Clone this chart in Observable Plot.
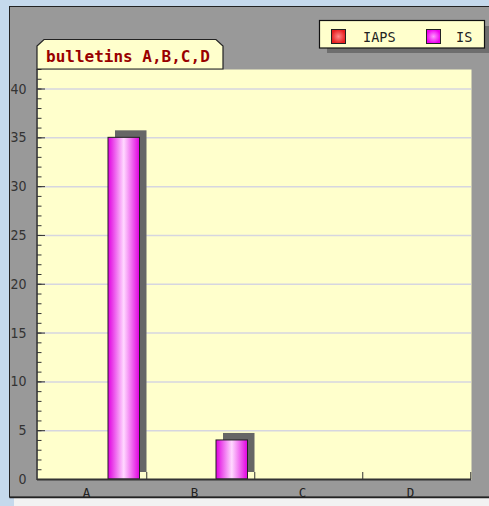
<!DOCTYPE html>
<html><head><meta charset="utf-8">
<script src="https://cdn.jsdelivr.net/npm/d3@7"></script>
<script src="https://cdn.jsdelivr.net/npm/@observablehq/plot@0.6"></script>
<style>html,body{margin:0;padding:0;background:#c5d9ec;} svg{display:block}</style>
</head><body><div id="chart"></div>
<script>
const title = "bulletins A,B,C,D";
const categories = ["A", "B", "C", "D"];
const seriesNames = ["IAPS", "IS"];
const seriesColors = ["#e82020", "#ee00ee"];
const iapsValues = [0, 0, 0, 0];
const isValues = [35, 4, 0, 0];
const majorTicks = [0, 5, 10, 15, 20, 25, 30, 35, 40];
const minorTicks = d3.range(0, 43);
const yDomain = [0, 42];

const iapsData = categories.map((c, i) => ({cat: c, series: seriesNames[0], value: iapsValues[i]}));
const isData = categories.map((c, i) => ({cat: c, series: seriesNames[1], value: isValues[i]}));

const W = 489, H = 506;
const mL = 37, mR = 18;
const frameW = W - mL - mR;
const tickFont = {fontFamily: "DejaVu Sans Condensed, DejaVu Sans", fontSize: 14};

const plot = Plot.plot({
  width: W, height: H,
  marginTop: 69, marginBottom: 27, marginLeft: mL, marginRight: mR,
  style: {background: "transparent", overflow: "visible"},
  x: {domain: categories, padding: 0, axis: null},
  y: {domain: yDomain, axis: null},
  marks: [
    Plot.frame({fill: "#ffffcc", stroke: null}),
    Plot.ruleY(majorTicks.filter(d => d > 0), {stroke: "#d6d6e0", strokeWidth: 1.5}),
    Plot.barY(iapsData, {x: "cat", y: "value", fill: "#666", dx: 7, dy: -7, insetLeft: 38, insetRight: 38.5}),
    Plot.barY(isData, {x: "cat", y: "value", fill: "#666", dx: 7, dy: -7, insetLeft: 70, insetRight: 6.5}),
    Plot.barY(iapsData, {x: "cat", y: "value", fill: "url(#gradIAPS)", stroke: "#222", insetLeft: 38, insetRight: 38.5}),
    Plot.barY(isData, {x: "cat", y: "value", fill: "url(#gradIS)", stroke: "#222", insetLeft: 70, insetRight: 6.5}),
    Plot.tickY(minorTicks, {y: d => d, stroke: "#333", insetRight: frameW - 4.5}),
    Plot.tickY(majorTicks, {y: d => d, stroke: "#333", insetRight: frameW - 8}),
    Plot.axisY({ticks: majorTicks, tickSize: 0, tickPadding: 11, label: null, fill: "#333", ...tickFont}),
    Plot.ruleX(categories, {x: d => d, dx: 54.25, insetTop: 403, stroke: "#333"}),
    Plot.ruleY([0], {stroke: "#333", strokeWidth: 2}),
    Plot.axisX({tickSize: 0, tickPadding: 9, dx: -6, label: null, fill: "#222", fontFamily: "DejaVu Sans Mono", fontSize: 12.5})
  ]
});

const svg = d3.select(plot);
const xs = plot.scale("x"), ys = plot.scale("y");
const pLeft = xs.range[0];
const pTop = ys.apply(yDomain[1]), pBottom = ys.apply(0);

const defs = svg.insert("defs", ":first-child");
function barGrad(id, edge, mid) {
  const g = defs.append("linearGradient").attr("id", id).attr("x1", 0).attr("x2", 1).attr("y1", 0).attr("y2", 0);
  g.append("stop").attr("offset", 0).attr("stop-color", edge);
  g.append("stop").attr("offset", 0.5).attr("stop-color", mid);
  g.append("stop").attr("offset", 1).attr("stop-color", edge);
}
barGrad("gradIAPS", "#e82020", "#ffb0b0");
barGrad("gradIS", "#e000e0", "#ffd8ff");
function swGrad(id, edge, mid) {
  const g = defs.append("radialGradient").attr("id", id);
  g.append("stop").attr("offset", 0).attr("stop-color", mid);
  g.append("stop").attr("offset", 1).attr("stop-color", edge);
}
swGrad("swIAPS", "#e82020", "#ff8a8a");
swGrad("swIS", "#ee00ee", "#ff99ff");

// background panel
const bg = svg.insert("g", "defs + *");
bg.append("rect").attr("x", 0).attr("y", 0).attr("width", W).attr("height", H).attr("fill", "#c5d9ec");
bg.append("rect").attr("x", 14).attr("y", 497).attr("width", W).attr("height", 9).attr("fill", "#f2f2f2");
bg.append("rect").attr("x", 9.5).attr("y", 6.5).attr("width", W + 10).attr("height", 490.5)
  .attr("fill", "#999999").attr("stroke", "#222");

// overlays
const ov = svg.append("g").attr("text-anchor", "start");
ov.append("line").attr("x1", pLeft).attr("x2", pLeft).attr("y1", pTop).attr("y2", pBottom + 1).attr("stroke", "#333").attr("stroke-width", 1.5);
ov.append("line").attr("x1", 9.5).attr("x2", W).attr("y1", 497.5).attr("y2", 497.5).attr("stroke", "#222").attr("stroke-width", 1.5);

// title tab
const tabR = 223;
ov.append("path")
  .attr("d", `M${pLeft},${pTop} V46 L${pLeft + 7},39.5 H${tabR - 7} L${tabR},46 V${pTop} Z`)
  .attr("fill", "#ffffcc").attr("stroke", "#222").attr("stroke-width", 1.2);
ov.append("text").attr("x", 46).attr("y", 62).attr("text-anchor", "start").text(title)
  .attr("font-family", "DejaVu Sans Mono").attr("font-weight", "bold").attr("font-size", 16)
  .attr("fill", "#990000");

// legend
ov.append("rect").attr("x", 327).attr("y", 26).attr("width", 165).attr("height", 27).attr("fill", "#6e6e6e");
ov.append("rect").attr("x", 319.5).attr("y", 20.5).attr("width", 165).attr("height", 27.5)
  .attr("fill", "#ffffcc").attr("stroke", "#111").attr("stroke-width", 1.2);
const legX = [331, 426], legTX = [363, 456], swIds = ["swIAPS", "swIS"];
seriesNames.forEach((s, i) => {
  ov.append("rect").attr("x", legX[i] + 0.5).attr("y", 29.5).attr("width", 14).attr("height", 14)
    .attr("fill", `url(#${swIds[i]})`).attr("stroke", "#222");
  ov.append("text").attr("x", legTX[i]).attr("y", 41.5).attr("text-anchor", "start").text(s)
    .attr("font-family", "DejaVu Sans Mono").attr("font-size", 13.5).attr("fill", "#222");
});

document.getElementById("chart").appendChild(plot);
</script>
</body></html>
